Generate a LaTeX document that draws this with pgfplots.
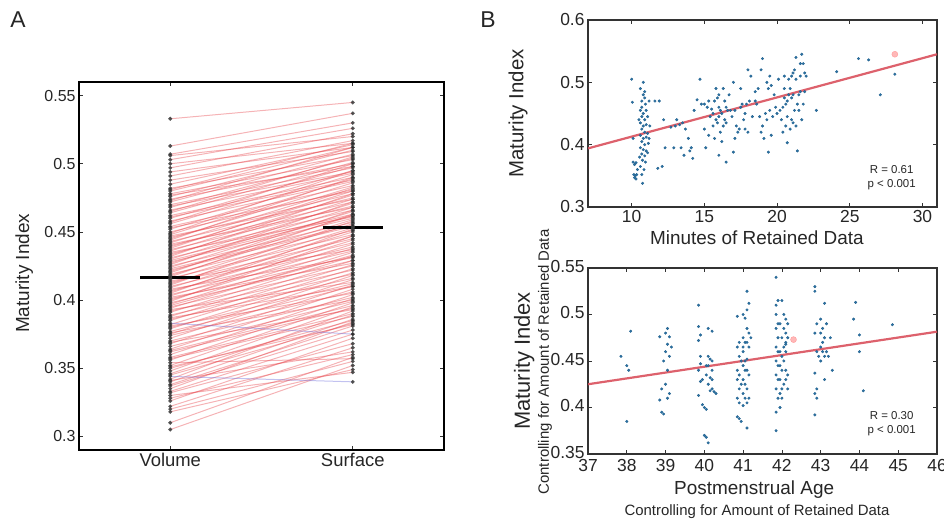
\documentclass[border=0pt]{standalone}
\usepackage{fontspec}
\setmainfont{Liberation Sans}
\usepackage{pgfplots}
\usepackage{pgfplotstable}
\pgfplotsset{compat=1.18}

\definecolor{txt}{HTML}{262626}
\definecolor{dotblue}{HTML}{2B74A8}
\definecolor{fitred}{HTML}{D9505C}
\definecolor{linered}{HTML}{E84A50}
\definecolor{lineblue}{HTML}{6E6EDC}

% paired maturity index, volume vs surface
\pgfplotstableread{
v s
0.305 0.352
0.310 0.358
0.318 0.349
0.320 0.355
0.322 0.365
0.326 0.372
0.328 0.360
0.330 0.347
0.332 0.368
0.333 0.375
0.335 0.384
0.337 0.378
0.338 0.381
0.340 0.386
0.341 0.362
0.342 0.392
0.344 0.340
0.345 0.383
0.346 0.389
0.348 0.395
0.350 0.385
0.351 0.382
0.352 0.398
0.354 0.357
0.356 0.401
0.357 0.388
0.358 0.390
0.360 0.404
0.362 0.394
0.363 0.396
0.364 0.408
0.366 0.399
0.368 0.411
0.369 0.393
0.370 0.402
0.372 0.415
0.374 0.406
0.375 0.418
0.376 0.400
0.377 0.410
0.379 0.420
0.380 0.412
0.381 0.405
0.382 0.423
0.383 0.375
0.385 0.426
0.386 0.416
0.387 0.410
0.388 0.429
0.389 0.419
0.391 0.432
0.392 0.422
0.393 0.413
0.394 0.435
0.395 0.425
0.396 0.433
0.397 0.438
0.398 0.429
0.399 0.447
0.400 0.441
0.401 0.432
0.402 0.427
0.403 0.444
0.404 0.436
0.405 0.452
0.406 0.447
0.407 0.439
0.408 0.431
0.409 0.450
0.410 0.442
0.411 0.458
0.412 0.453
0.413 0.445
0.414 0.437
0.415 0.456
0.416 0.448
0.417 0.463
0.418 0.459
0.419 0.451
0.420 0.466
0.421 0.462
0.422 0.454
0.423 0.455
0.424 0.465
0.425 0.457
0.426 0.472
0.427 0.468
0.428 0.460
0.429 0.462
0.430 0.471
0.431 0.463
0.432 0.478
0.433 0.474
0.434 0.466
0.435 0.461
0.436 0.477
0.437 0.469
0.438 0.482
0.439 0.480
0.440 0.472
0.441 0.468
0.442 0.483
0.443 0.475
0.444 0.490
0.445 0.486
0.446 0.478
0.447 0.474
0.448 0.489
0.449 0.495
0.450 0.481
0.452 0.492
0.453 0.480
0.454 0.484
0.456 0.495
0.457 0.500
0.458 0.487
0.460 0.498
0.461 0.488
0.462 0.490
0.464 0.501
0.465 0.505
0.466 0.493
0.468 0.504
0.469 0.494
0.470 0.497
0.472 0.507
0.473 0.512
0.474 0.500
0.476 0.510
0.477 0.498
0.478 0.503
0.480 0.512
0.481 0.515
0.482 0.506
0.485 0.514
0.488 0.509
0.491 0.517
0.494 0.512
0.497 0.522
0.500 0.515
0.503 0.526
0.506 0.520
0.507 0.530
0.513 0.537
0.533 0.545
}\pairs

% maturity index vs minutes of retained data
\pgfplotstableread{
x y
10.00 0.505
10.05 0.468
10.10 0.372
10.15 0.352
10.20 0.347
10.25 0.350
10.30 0.345
10.35 0.352
10.10 0.410
10.20 0.368
10.30 0.371
10.40 0.360
10.60 0.490
10.70 0.470
10.80 0.500
10.90 0.485
10.80 0.480
10.90 0.475
10.70 0.460
10.95 0.465
10.60 0.455
10.80 0.450
11.00 0.455
10.70 0.445
10.90 0.440
11.10 0.445
10.60 0.435
10.80 0.430
11.00 0.432
10.70 0.425
10.90 0.420
11.10 0.418
10.60 0.415
10.80 0.410
11.00 0.412
10.70 0.405
10.90 0.400
11.15 0.402
10.60 0.395
10.80 0.392
11.00 0.390
10.70 0.385
10.90 0.382
11.10 0.387
10.75 0.375
10.95 0.372
10.60 0.365
10.85 0.360
10.70 0.352
10.75 0.338
11.20 0.470
11.25 0.430
11.20 0.410
10.50 0.440
10.55 0.380
11.60 0.470
11.90 0.470
11.80 0.362
12.10 0.365
12.20 0.440
12.30 0.395
12.70 0.428
12.90 0.395
13.10 0.440
13.30 0.432
13.50 0.435
13.40 0.395
13.60 0.383
13.70 0.425
13.90 0.410
14.00 0.390
14.10 0.395
14.20 0.378
14.30 0.455
14.50 0.472
13.00 0.430
14.70 0.505
14.80 0.465
15.00 0.465
15.20 0.460
15.00 0.425
15.10 0.395
15.30 0.415
15.40 0.445
15.60 0.450
15.70 0.470
15.80 0.490
15.90 0.475
16.00 0.480
16.00 0.460
16.10 0.455
15.80 0.440
15.90 0.435
16.00 0.445
16.20 0.450
16.30 0.430
16.10 0.420
15.70 0.410
15.60 0.430
16.40 0.440
16.40 0.470
16.50 0.460
16.30 0.490
16.60 0.455
16.50 0.435
16.20 0.405
16.00 0.383
16.50 0.372
16.70 0.480
16.80 0.455
17.00 0.500
17.10 0.455
16.90 0.445
15.50 0.457
15.30 0.470
17.20 0.430
17.30 0.420
17.10 0.410
17.40 0.425
17.50 0.490
17.60 0.465
17.70 0.440
17.80 0.425
17.90 0.465
18.00 0.520
18.10 0.470
18.20 0.510
17.50 0.460
17.80 0.450
18.00 0.420
18.30 0.445
18.50 0.470
18.60 0.465
18.70 0.490
18.80 0.445
18.90 0.420
19.00 0.430
18.90 0.520
19.00 0.538
17.00 0.388
19.10 0.410
18.50 0.485
19.20 0.450
19.30 0.500
19.40 0.490
19.50 0.510
19.60 0.495
19.50 0.455
19.70 0.445
19.80 0.480
19.90 0.460
20.00 0.450
19.40 0.388
19.60 0.415
19.30 0.440
20.10 0.505
20.20 0.455
20.30 0.440
20.40 0.460
20.50 0.475
20.50 0.510
20.60 0.465
20.70 0.470
20.80 0.480
20.60 0.430
20.70 0.445
20.80 0.505
20.90 0.490
21.00 0.510
21.00 0.475
21.10 0.515
21.20 0.520
21.30 0.505
21.10 0.480
21.20 0.455
21.00 0.440
21.30 0.430
20.90 0.425
21.40 0.465
21.50 0.480
21.60 0.510
21.70 0.545
21.80 0.530
21.90 0.515
21.60 0.485
21.50 0.455
21.80 0.465
21.70 0.440
21.90 0.485
22.00 0.510
21.40 0.390
20.70 0.403
21.30 0.540
20.40 0.420
21.10 0.435
20.50 0.490
21.60 0.530
22.70 0.455
24.10 0.517
25.60 0.538
26.30 0.536
27.10 0.480
28.10 0.513
}\minutes

% maturity index vs postmenstrual age (controlled)
\pgfplotstableread{
x y
37.85 0.455
38.00 0.445
38.05 0.440
38.10 0.482
38.00 0.385
38.85 0.476
38.90 0.420
38.85 0.408
38.90 0.395
38.95 0.393
39.00 0.480
39.05 0.485
39.00 0.460
39.10 0.476
39.05 0.468
39.10 0.455
39.05 0.440
39.00 0.425
39.10 0.415
39.05 0.410
39.15 0.465
38.95 0.450
39.85 0.510
39.85 0.487
39.90 0.478
39.85 0.472
39.90 0.455
39.90 0.447
39.85 0.440
39.95 0.430
39.90 0.428
39.85 0.413
39.95 0.403
40.00 0.400
40.05 0.398
40.00 0.370
40.05 0.368
40.10 0.362
40.10 0.485
40.20 0.482
40.10 0.455
40.15 0.452
40.20 0.450
40.10 0.445
40.20 0.440
40.05 0.435
40.15 0.432
40.10 0.425
40.20 0.420
40.15 0.418
40.25 0.417
40.30 0.415
40.05 0.445
40.20 0.430
40.85 0.498
40.90 0.470
40.85 0.465
40.90 0.455
40.85 0.440
40.90 0.435
40.85 0.430
40.90 0.420
40.85 0.410
40.90 0.405
40.85 0.390
40.90 0.388
40.95 0.385
41.00 0.500
41.05 0.496
41.00 0.475
41.05 0.470
41.00 0.465
41.05 0.450
41.00 0.445
41.05 0.440
41.00 0.430
41.05 0.425
41.00 0.415
41.05 0.410
41.00 0.402
41.10 0.525
41.10 0.505
41.15 0.512
41.10 0.485
41.15 0.480
41.10 0.470
41.15 0.465
41.10 0.452
41.10 0.440
41.15 0.435
41.10 0.420
41.15 0.410
41.10 0.405
41.10 0.378
41.20 0.475
40.95 0.450
40.95 0.425
41.00 0.460
41.85 0.540
41.85 0.510
41.90 0.515
41.85 0.500
41.90 0.490
41.85 0.485
41.90 0.475
41.85 0.465
41.90 0.460
41.85 0.450
41.90 0.445
41.85 0.435
41.90 0.430
41.85 0.420
41.90 0.410
41.85 0.395
41.85 0.375
42.00 0.515
41.95 0.490
42.00 0.475
41.95 0.460
42.00 0.455
41.95 0.445
42.00 0.440
41.95 0.430
42.00 0.420
41.95 0.415
42.05 0.500
42.10 0.495
42.05 0.485
42.10 0.480
42.15 0.490
42.10 0.470
42.05 0.465
42.15 0.475
42.10 0.460
42.05 0.450
42.10 0.440
42.15 0.435
42.10 0.430
42.05 0.425
42.15 0.420
42.00 0.410
42.10 0.468
41.95 0.400
42.85 0.530
42.85 0.525
42.90 0.490
42.85 0.480
42.90 0.460
42.85 0.437
42.90 0.420
42.85 0.415
42.90 0.410
42.85 0.392
43.00 0.495
43.05 0.485
43.00 0.480
43.05 0.470
43.00 0.465
43.05 0.460
43.10 0.455
43.00 0.450
43.10 0.512
43.15 0.490
43.10 0.475
43.15 0.460
43.20 0.455
43.10 0.430
43.25 0.475
43.30 0.440
42.95 0.455
43.90 0.513
43.85 0.495
44.00 0.478
44.00 0.460
44.10 0.418
44.85 0.489
}\pma

\pgfplotsset{
  mat/.style={
    scale only axis,
    enlargelimits=false,
    axis line style={black!80, line width=1.3bp},
    tick align=inside,
    tick pos=both,
    major tick length=4bp,
    every tick/.style={black!80, line width=0.8bp},
    tick label style={text=txt},
    label style={text=txt},
    /pgf/number format/assume math mode=true,
  },
  dots/.style={only marks, mark=*, mark size=1.3bp, color=dotblue!85!black, mark options={fill=dotblue}},
  fit/.style={fitred, line width=2.2bp, opacity=0.9},
  hl/.style={only marks, mark=*, mark size=3bp, color=red!45, mark options={fill=red!35, opacity=0.8}},
}

\begin{document}
\begin{tikzpicture}[x=1bp, y=1bp]
\useasboundingbox (0,0) rectangle (944,521);

\node[font=\fontsize{23}{25}\selectfont, text=txt] at (18,501) {A};
\node[font=\fontsize{23}{25}\selectfont, text=txt] at (488,501) {B};

% ---- panel A
\begin{axis}[mat,
  at={(79bp,71bp)}, anchor=south west,
  width=365bp, height=368bp,
  axis line style={black, line width=1.6bp},
  xmin=0.5, xmax=2.5, ymin=0.29, ymax=0.56,
  xtick={1,2}, xticklabels={Volume,Surface},
  ytick={0.3,0.35,0.4,0.45,0.5,0.55},
  yticklabel style={font=\fontsize{16}{18}\selectfont},
  xticklabel style={font=\fontsize{18.5}{20}\selectfont},
  ylabel={Maturity Index},
  ylabel style={font=\fontsize{19}{21}\selectfont, at={(rel axis cs:-0.15,0.48)}, anchor=center},
]
\pgfplotstablegetrowsof{\pairs}
\pgfmathtruncatemacro\lastrow{\pgfplotsretval-1}
\pgfplotsforeachungrouped \i in {0,...,\lastrow}{%
  \pgfplotstablegetelem{\i}{v}\of\pairs \let\vv\pgfplotsretval
  \pgfplotstablegetelem{\i}{s}\of\pairs \let\sv\pgfplotsretval
  \ifdim\sv pt<\vv pt \def\lc{lineblue}\else\def\lc{linered}\fi
  \edef\temp{\noexpand\addplot[\lc, line width=1bp, opacity=0.42, forget plot] coordinates {(1,\vv) (2,\sv)};}%
  \temp
}
\addplot[only marks, mark=*, mark size=1.8bp, color=black!70, mark options={fill=black!85, opacity=0.8}]
  table[x expr=1, y=v] {\pairs};
\addplot[only marks, mark=*, mark size=1.8bp, color=black!70, mark options={fill=black!85, opacity=0.8}]
  table[x expr=2, y=s] {\pairs};
\addplot[black, line width=2.8bp] coordinates {(0.835,0.4165) (1.165,0.4165)};
\addplot[black, line width=2.8bp] coordinates {(1.835,0.4535) (2.165,0.4535)};
\end{axis}

% ---- panel B top
\begin{axis}[mat,
  at={(588bp,314bp)}, anchor=south west,
  width=349bp, height=187bp,
  xmin=7, xmax=31, ymin=0.3, ymax=0.6,
  xtick={10,15,20,25,30},
  ytick={0.3,0.4,0.5,0.6},
  tick label style={font=\fontsize{17.5}{19}\selectfont},
  xlabel={Minutes of Retained Data},
  xlabel style={font=\fontsize{19}{21}\selectfont, at={(rel axis cs:0.484,-0.166)}, anchor=center},
  ylabel={Maturity Index},
  ylabel style={font=\fontsize{20.5}{22}\selectfont, at={(rel axis cs:-0.2,0.5)}, anchor=center},
]
\addplot[dots] table[x=x, y=y] {\minutes};
\addplot[fit] coordinates {(7,0.394) (31,0.545)};
\addplot[hl] coordinates {(28.1,0.545)};
\node[font=\fontsize{11.5}{14}\selectfont, text=txt, align=center] at (rel axis cs:0.87,0.158) {R = 0.61\\p < 0.001};
\end{axis}

% ---- panel B bottom
\begin{axis}[mat,
  at={(588bp,67bp)}, anchor=south west,
  width=349bp, height=186bp,
  xmin=37, xmax=46, ymin=0.35, ymax=0.55,
  xtick={37,38,...,46},
  ytick={0.35,0.4,0.45,0.5,0.55},
  tick label style={font=\fontsize{17.5}{19}\selectfont},
  xticklabel style={yshift=-2bp},
  yticklabel style={yshift=1.5bp},
  xlabel={Postmenstrual Age},
  xlabel style={font=\fontsize{19}{21}\selectfont, at={(rel axis cs:0.476,-0.194)}, anchor=center},
  ylabel={Maturity Index},
  ylabel style={font=\fontsize{22}{24}\selectfont, at={(rel axis cs:-0.183,0.5)}, anchor=center},
]
\addplot[dots] table[x=x, y=y] {\pma};
\addplot[fit] coordinates {(37,0.425) (46,0.4815)};
\addplot[hl] coordinates {(42.3,0.473)};
\node[font=\fontsize{11.5}{14}\selectfont, text=txt, align=center] at (rel axis cs:0.87,0.163) {R = 0.30\\p < 0.001};
\end{axis}

\node[rotate=90, font=\fontsize{15}{17}\selectfont, text=txt] at (545,159) {Controlling for Amount of Retained Data};
\node[font=\fontsize{15}{17}\selectfont, text=txt] at (757,9) {Controlling for Amount of Retained Data};
\end{tikzpicture}
\end{document}
